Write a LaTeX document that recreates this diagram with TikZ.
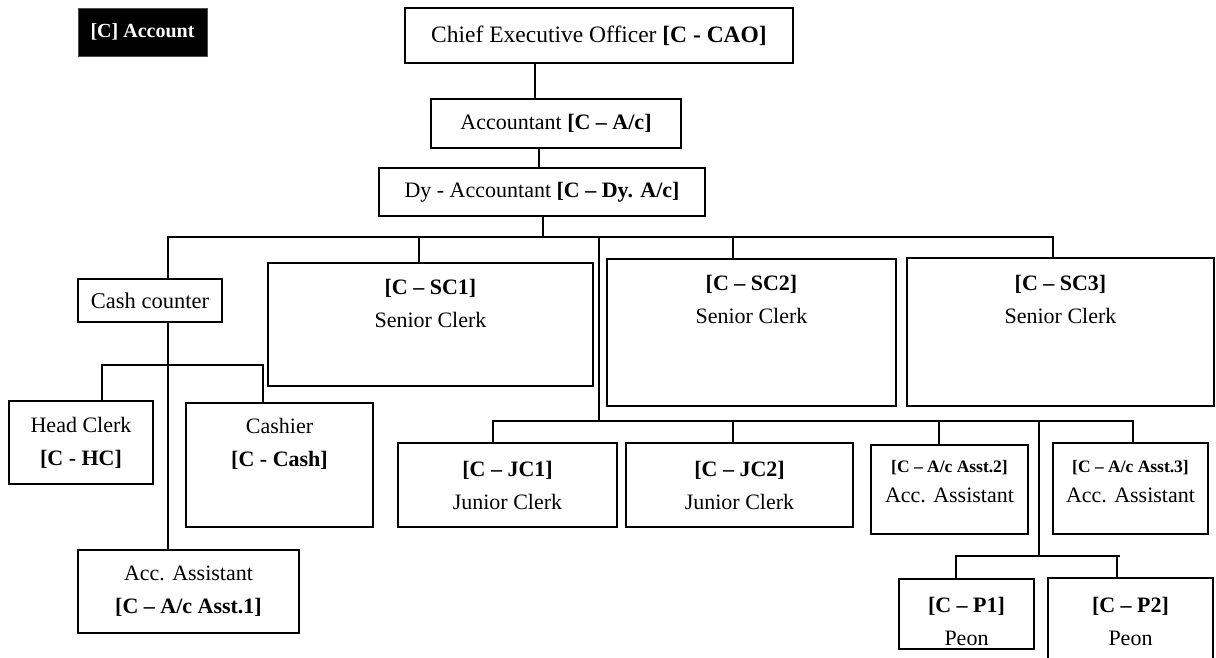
\documentclass[tikz,border=0pt]{standalone}
\usepackage{fontspec}
\setmainfont{Liberation Serif}
\usetikzlibrary{positioning}

\tikzset{
  post/.style={draw, line width=1.2pt, inner sep=0pt, align=center,
    font=\fontsize{22}{33}\selectfont},
  posttxt/.style={inner sep=0pt, align=center, font=\fontsize{22}{33}\selectfont},
  link/.style={line width=1.2pt},
}

\begin{document}
\begin{tikzpicture}[x=1pt, y=-1pt]
    \useasboundingbox (0,0) rectangle (1216,657);

    % tag in the corner
    \node[fill=black, draw=black!70, line width=1pt, minimum width=129, minimum height=48,
      inner sep=0pt, text=white, font=\fontsize{20}{24}\selectfont\bfseries] (tag) at (142.5,32) {[C] Account};

    % top of the chain
    \node[post, minimum width=388, minimum height=55, font=\fontsize{23.5}{30}\selectfont] (ceo) at (599,35.5)
      {Chief Executive Officer \textbf{[C - CAO]}};
    \node[post, minimum width=250, minimum height=49] (acct) at (556,123.5)
      {Accountant \textbf{[C – A/c]}};
    \node[post, minimum width=326, minimum height=48] (dyacct) at (542,192)
      {Dy - Accountant \textbf{[C – Dy. A/c]}};

    % second row
    \node[post, minimum width=144, minimum height=43, font=\fontsize{22.5}{26}\selectfont] (cash) at (150,300.5) {Cash counter};
    \node[post, minimum width=325, minimum height=123] (sc1) at (430.5,324.5) {};
    \node[post, minimum width=289, minimum height=147] (sc2) at (751.5,332.5) {};
    \node[post, minimum width=307, minimum height=148] (sc3) at (1060.5,332) {};
    \node[posttxt, below=17pt of sc1.north] (sc1txt) {\textbf{[C – SC1]}\\Senior Clerk};
    \node[posttxt, below=17pt of sc2.north] (sc2txt) {\textbf{[C – SC2]}\\Senior Clerk};
    \node[posttxt, below=18pt of sc3.north] (sc3txt) {\textbf{[C – SC3]}\\Senior Clerk};

    % under the cash counter
    \node[post, minimum width=144, minimum height=83] (hc) at (81,442.5) {Head Clerk\\\textbf{[C - HC]}};
    \node[post, minimum width=187, minimum height=124] (cashier) at (279.5,465) {};
    \node[posttxt, below=16pt of cashier.north] (cashiertxt) {Cashier\\\textbf{[C - Cash]}};
    \node[post, minimum width=221, minimum height=83] (asst1) at (188.5,591.5)
      {Acc. Assistant\\\textbf{[C – A/c Asst.1]}};

    % clerks and assistants
    \node[post, minimum width=219, minimum height=84] (jc1) at (507.5,485) {\textbf{[C – JC1]}\\Junior Clerk};
    \node[post, minimum width=227, minimum height=84] (jc2) at (739.5,485) {\textbf{[C – JC2]}\\Junior Clerk};
    \node[post, minimum width=157, minimum height=89] (asst2) at (949.5,489.5) {};
    \node[post, minimum width=155, minimum height=91] (asst3) at (1130.5,488.5) {};
    \node[posttxt, below=16pt of asst2.north] (asst2txt)
      {{\fontsize{17.5}{21}\selectfont\textbf{[C – A/c Asst.2]}}\\[-3pt]Acc. Assistant};
    \node[posttxt, below=18pt of asst3.north] (asst3txt)
      {{\fontsize{17.5}{21}\selectfont\textbf{[C – A/c Asst.3]}}\\[-3pt]Acc. Assistant};

    % peons
    \node[post, minimum width=135, minimum height=70] (p1) at (966.5,614) {};
    \node[post, minimum width=165, minimum height=100] (p2) at (1130.5,628) {};
    \node[posttxt, below=19pt of p1.north] (p1txt) {\textbf{[C – P1]}\\Peon};
    \node[posttxt, below=20pt of p2.north] (p2txt) {\textbf{[C – P2]}\\Peon};

    % buses
    \coordinate (b1) at (543,237);
    \coordinate (b1l) at (168,237);
    \coordinate (b1r) at (1053,237);
    \coordinate (b2) at (168,365);
    \coordinate (b3) at (599,421);
    \coordinate (b4) at (1039,556);

    \draw[link] (ceo.south -| b1l) ++(367,0) -- ++(0,36);
    \draw[link] (acct.south) ++(-17,0) -- ++(0,20);
    \draw[link] (dyacct.south -| b1) -- (b1);
    \draw[link] (b1l |- cash.north) -- (b1l) -- (b1r) -- (b1r |- sc3.north);
    \draw[link] (419,237) -- (419,0 |- sc1.north);
    \draw[link] (733,237) -- (733,0 |- sc2.north);
    \draw[link] (b3 |- b1) -- (b3);

    % cash counter branch
    \draw[link] (cash.south -| b2) -- (b2 |- asst1.north);
    \draw[link] (102,0 |- hc.north) -- (102,365) -- (263,365) -- (263,0 |- cashier.north);

    % clerks branch
    \draw[link] (493,0 |- jc1.north) -- (493,421) -- (1133,421) -- (1133,0 |- asst3.north);
    \draw[link] (733,421) -- (733,0 |- jc2.north);
    \draw[link] (939,421) -- (939,0 |- asst2.north);
    \draw[link] (b4 |- b3) -- (b4);
    \draw[link] (956,0 |- p1.north) -- (956,556) -- (1120,556);
    \draw[link] (1117,556) -- (1117,0 |- p2.north);
\end{tikzpicture}
\end{document}
